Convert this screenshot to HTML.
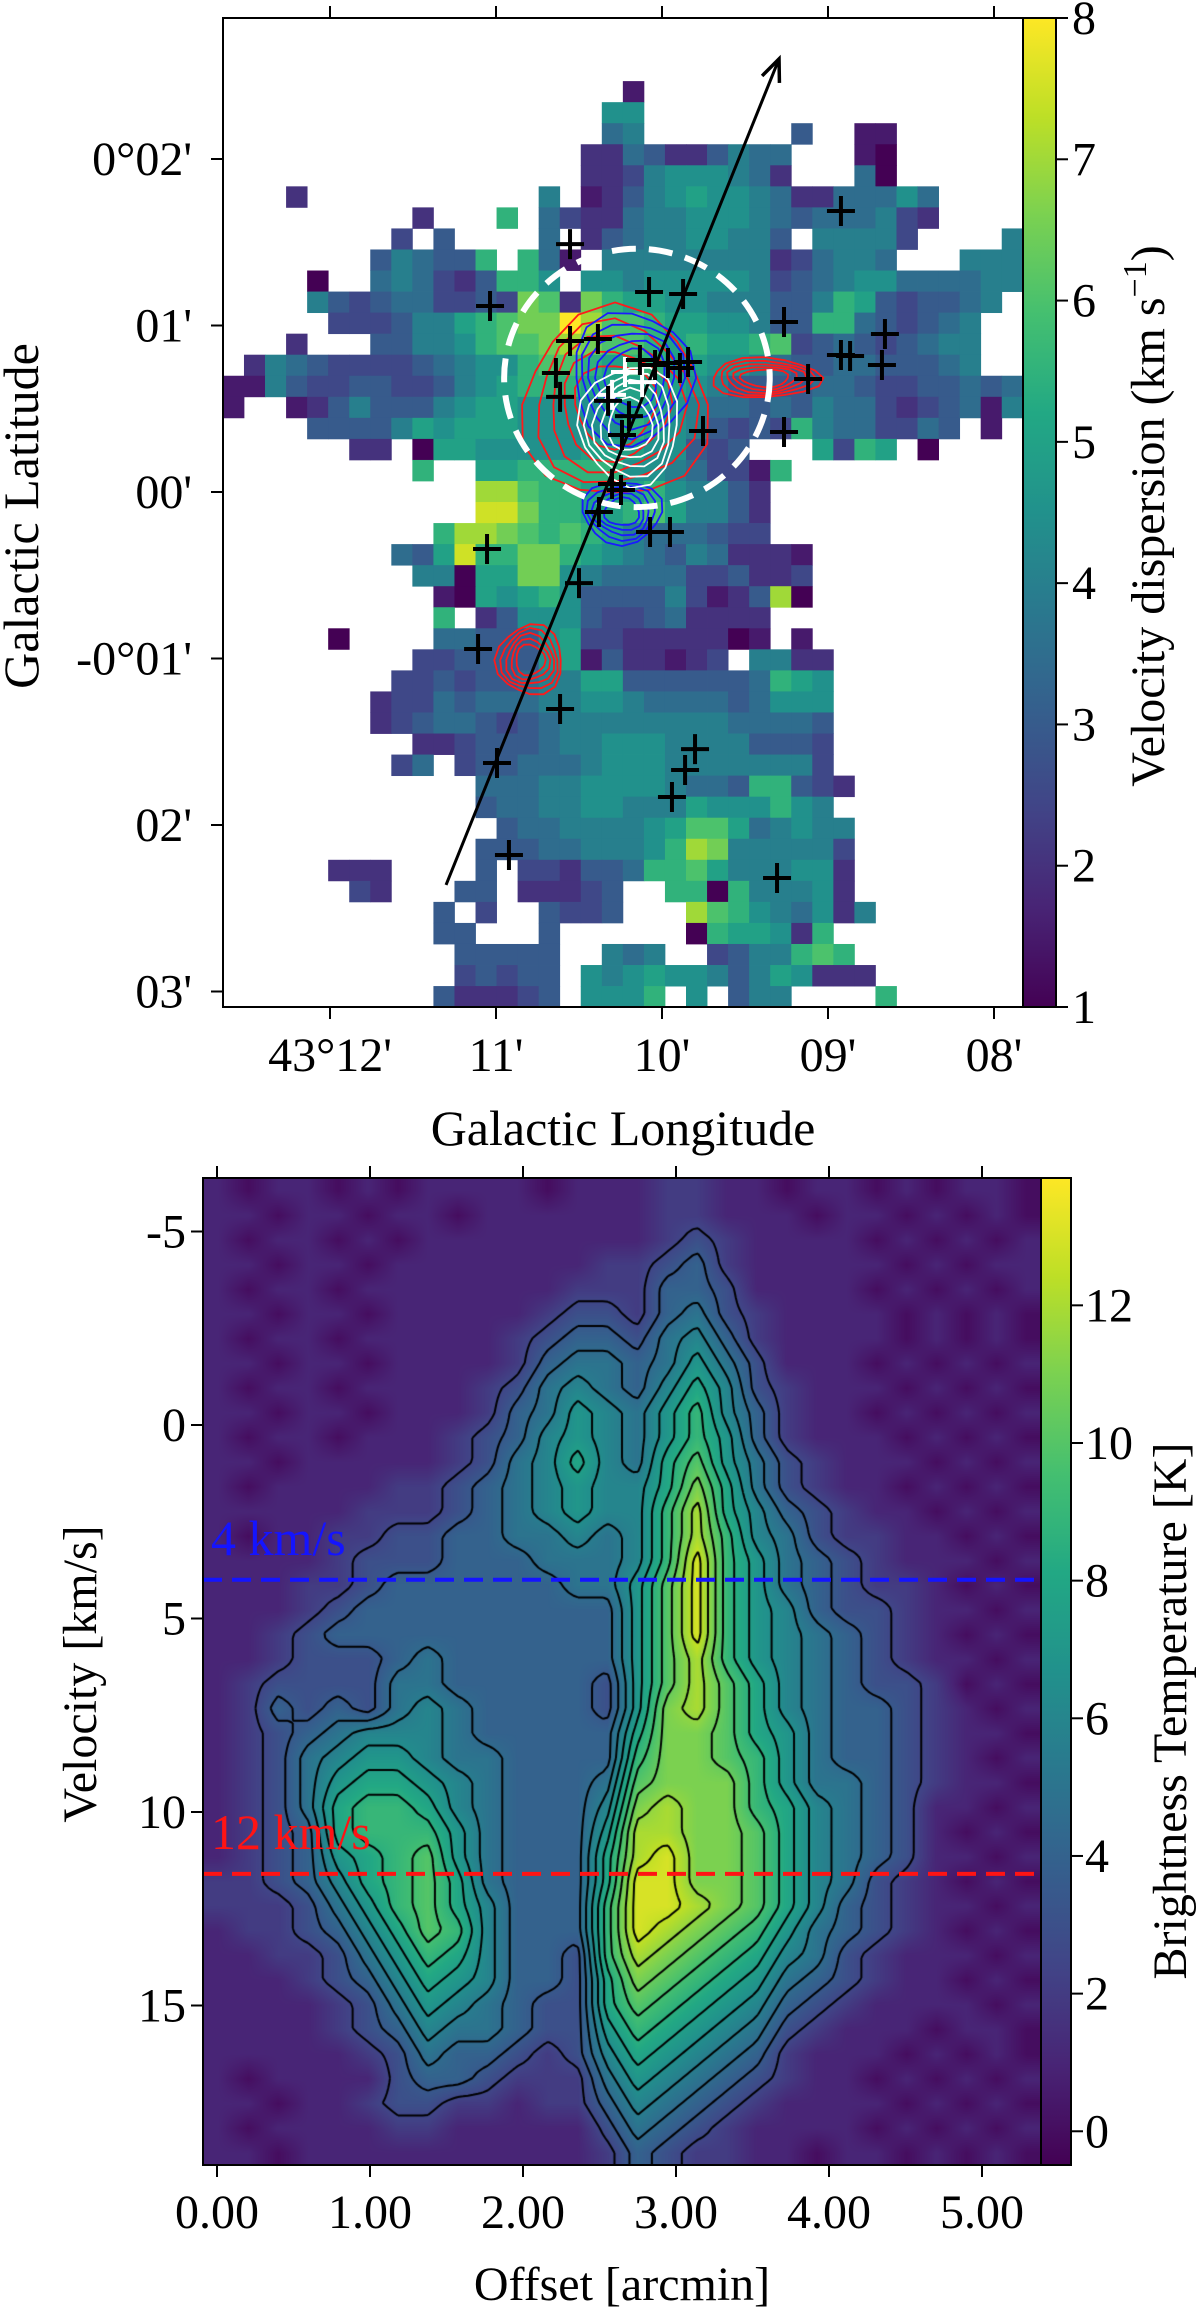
<!DOCTYPE html>
<html><head><meta charset="utf-8">
<style>
html,body{margin:0;padding:0;background:#fff;}
#wrap{position:relative;width:1200px;height:2314px;overflow:hidden;background:#fff;font-family:"Liberation Serif",serif;}
canvas{position:absolute;}
svg{position:absolute;left:0;top:0;font-family:"Liberation Serif",serif;}
text{font-family:"Liberation Serif",serif;fill:#000;}
</style></head>
<body>
<div id="wrap">
<canvas id="pv"></canvas>
<svg id="fig" width="1200" height="2314" font-family="Liberation Serif, serif" style="font-family:'Liberation Serif',serif" xmlns="http://www.w3.org/2000/svg">
  <defs>
    <linearGradient id="virGrad" x1="0" y1="1" x2="0" y2="0"></linearGradient>
  </defs>
  <g id="mapCells"></g>
  <g id="mapOverlay"></g>
  <g id="axesTop"></g>
  <g id="axesBottom"></g>
</svg>
</div>
<script>
// ===== Top map data (rows top->bottom, cols left->right). '.' = blank, 'A'=1.0, step 0.5 km/s =====
const mapRows = [
"......................................",
"......................................",
"......................................",
"...................B..................",
"..................HH..................",
"..................FG.......E..BB......",
".................CCFECCEGFF...BA......",
".................CCDGHHHGFC...FA......",
"...C...........G.BCEGHIHHGFCCFFFHF....",
".........C...J.FDCCFGGHHHGFEFFFGDC....",
"........D.E....F.CEFGGHHGGE.GGGGD....G",
".......EGFEEJ.JFB.GGGGGGGGCDFGGF...GGG",
"....A..FGFDCEJJH.HHGHHHHHGDEFGHHFFFFGG",
"....GEDEFFDDEDLKCLJIIHHGGGEEGJIEDEEFG.",
".....DDDEGGIJKLLOMKKJIIHHGEEJJFEDEFG..",
"...C...EEGGHJKKLMLKKJIJIIJKDEFEDEFGG..",
".CGFEDDDDEFGHHJKKJIJJIIHHGFEEFFEEEFG..",
"BBGEDDEEDDEGHIJJJIIIIIHGEEEEFFEDDEEFEF",
"B..BCEGEEEGHIIHHHHIIIHGFFEFEGFFDCDEFBG",
"....EEEEGIHIIIHHHHHJIHGEDEDJGFFDDFE.B.",
"......CC.AIIHHHHHIIIHHEDE...IDJI.A....",
".........J..IIJJJJJHHGFDDBJ...........",
"............MMKJJIIIJHGGEC............",
"............NNLJJIIJKIGGEC............",
"..........JMMLKJKJIGFFFEDD............",
"........FEINJJLLJIHGFEGFCCCB..........",
".........GGAIILLHGFFFFDDECCD..........",
"..........BAIHIJHEEEEGDBCEMA..........",
"..........J.CEHHHEDDEFCCCC............",
".....A....FFEEEHIDDCCCCCAB.B..........",
".........DDEEEEHIBECCBCD.GGCC.........",
"........DDEDEEFGGIIEEEEEEFJIH.........",
".......CDDFEFFFGGHHGFFFFEFHHH.........",
".......CDEFFEDEFGGGGGGGGFFFFE.........",
".........CCDEEEFGGHHHGGGGEEED.........",
"........DF.DEEFFFGHHHGGGGGGGD.........",
"............FFFGGHHHHGFFEJJEDC........",
"............EFFGGHHGGGIHHHJHG.........",
".............EFFGGGGHIKKIFGHGG........",
"............EEEFFGGGHJMLGGGGGD........",
".....CCC....E.DDCEEFJJKIGGGHHC........",
"......DC...EE.CCCDE..JJAJGGGHC........",
"..........E.D..EDDE...MKJHGFHCG.......",
"..........EE...E......AJIIHCJ.........",
"...........EEEEE..GFG..DEGGJKJ........",
"...........DEDEE.HGHIHHGEGIHCCC.......",
"..........ECCCDE.HHHJ.H.EGG....J......"
];
const MAP_L0 = 12.645, MAP_DL = 0.1268, MAP_B0 = 2.847, MAP_DB = 0.1264; // arcmin grid
const mapVmin = 1, mapVmax = 8;
const mapXTicks = [12, 11, 10, 9, 8];
const mapXTickLabels = ["43°12'", "11'", "10'", "09'", "08'"];
const mapYTicks = [2, 1, 0, -1, -2, -3];
const mapYTickLabels = ["0°02'", "01'", "00'", "-0°01'", "02'", "03'"];
const mapCbTicks = [1, 2, 3, 4, 5, 6, 7, 8];
// sources (arcmin: longitude past 43°, latitude)
const crossL = [10.554,8.922,11.036,10.078,9.873,9.265,10.554,10.386,8.657,10.639,10.614,10.133,10.042,9.964,9.892,9.843,8.922,8.867,8.675,9.120,10.325,10.199,10.241,9.753,9.265,10.301,10.247,10.380,10.072,9.952,11.054,10.500,11.108,10.614,10.994,9.801,9.861,9.940,10.922,9.307];
const crossB = [1.489,1.688,1.117,1.201,1.189,1.021,0.907,0.919,0.949,0.715,0.571,0.793,0.763,0.775,0.745,0.781,0.823,0.817,0.763,0.679,0.547,0.456,0.342,0.366,0.360,0.048,0.012,-0.120,-0.240,-0.240,-0.342,-0.547,-0.943,-1.303,-1.628,-1.544,-1.670,-1.832,-2.180,-2.318];
const whiteCrossL = [10.223, 10.301, 10.12];
const whiteCrossB = [0.721, 0.583, 0.66];
// contour groups: center l,b ; radii rl,rb ; colour
const contL = [10.283, 9.380, 10.181, 10.241, 10.193, 10.795];
const contB = [0.523, 0.685, 0.685, -0.120, 0.402, -1.009];
const contRL = [0.56, 0.33, 0.36, 0.24, 0.30, 0.20];
const contRB = [0.57, 0.12, 0.40, 0.19, 0.36, 0.21];
const contColor = ["#ff1a1a", "#ff1a1a", "#1a1aff", "#1a1aff", "#ffffff", "#ff1a1a"];
const contLevels = [1, 0.86, 0.72, 0.58, 0.44];
const circleL = 10.151, circleB = 0.685, circleR = 0.8;
const arrowL = [11.301, 9.295], arrowB = [-2.360, 2.601];

// ===== PV diagram data: rows = velocity bins (top->bottom), cols = offset bins; hex digits in K =====
const pvRows = [
"1011010111101112211011010110",
"1101101101111112211101101010",
"1011010111111112321111010101",
"1101101111111223421111101011",
"1011011111112224431111010101",
"1101101111123324532111101010",
"1011011111234435642111101010",
"1101101111245545753111010101",
"1011011112356546863211101010",
"1101101112457657964211010101",
"1011011123467657974211101010",
"1101111123568658a75321110101",
"1011112234567668b85321101010",
"1111122234567669c86432110101",
"1011223344556569c96532211010",
"1111233344455569d97543211101",
"11122344444455 7ad97543221010".replace(" ",""),
"11123444444444 7ad97643321101".replace(" ",""),
"11234444444444 7ad97654321010".replace(" ",""),
"11233345444444 7ac97654321101".replace(" ",""),
"12333355444443 7aca8654332010".replace(" ",""),
"12434356544443 7bca8654432101".replace(" ",""),
"12345666544444 8bba8754432110".replace(" ",""),
"12356776554444 9bba9754432101".replace(" ",""),
"12357887654445 abbb9755432110".replace(" ",""),
"12358998654446 bcbb9865431101".replace(" ",""),
"12348999754447 ccbba865431010".replace(" ",""),
"1234789a754448 cdbba865431101".replace(" ",""),
"2234689a854448 ddbba865321010".replace(" ",""),
"2223579a864449 ddcba864321101".replace(" ",""),
"1223468a964449 dcba9754321010".replace(" ",""),
"11223579864439 cba98653211101".replace(" ",""),
"11123468764438 ba987543211010".replace(" ",""),
"11112357654338 a9876432111101".replace(" ",""),
"11112346554337 98765321110110".replace(" ",""),
"11111235443236 87654211101010".replace(" ",""),
"10111134432225 76543211010101".replace(" ",""),
"11011233221224 65432111101010".replace(" ",""),
"10111122111113 54321111010101".replace(" ",""),
"11011111111112 43221101101010".replace(" ","")
];
const PV_X0 = -0.0915, PV_DX = 0.1956, PV_V0 = -6.38, PV_DV = 0.6375;
const pvVmin = -0.49, pvVmax = 13.85;
const pvContourLevels = [2.5, 3.5, 4.5, 5.5, 6.5, 7.5, 8.5, 9.5, 10.5, 11.5, 12.5];
const pvXTicks = [0, 1, 2, 3, 4, 5];
const pvXTickLabels = ["0.00", "1.00", "2.00", "3.00", "4.00", "5.00"];
const pvYTicks = [-5, 0, 5, 10, 15];
const pvYTickLabels = ["-5", "0", "5", "10", "15"];
const pvCbTicks = [0, 2, 4, 6, 8, 10, 12];
const refVel = [4, 11.6];
const refLabels = ["4 km/s", "12 km/s"];
const refColors = ["#1414ff", "#ff1414"];

// ===== helpers =====
const NS = "http://www.w3.org/2000/svg";
const VIR = ['#440154','#482475','#414487','#355f8d','#2a788e','#21918c','#22a884','#44bf70','#7ad151','#bddf26','#fde725'];
function hx(h){return [parseInt(h.substr(1,2),16),parseInt(h.substr(3,2),16),parseInt(h.substr(5,2),16)];}
const VIRRGB = VIR.map(hx);
function vir(t){t=Math.max(0,Math.min(1,t));const s=t*10;const i=Math.min(9,Math.floor(s));const f=s-i;const a=VIRRGB[i],b=VIRRGB[i+1];
  return [a[0]+(b[0]-a[0])*f,a[1]+(b[1]-a[1])*f,a[2]+(b[2]-a[2])*f];}
function rgb(c){return "rgb("+Math.round(c[0])+","+Math.round(c[1])+","+Math.round(c[2])+")";}
function mk(tag, attrs, parent){const e=document.createElementNS(NS,tag);for(const k in attrs)e.setAttribute(k,attrs[k]);parent.appendChild(e);return e;}
const FF = "Liberation Serif, serif";

// gradient
const grad = document.getElementById('virGrad');
for (let i=0;i<=20;i++){const st=document.createElementNS(NS,'stop');st.setAttribute('offset',(i/20));st.setAttribute('stop-color',rgb(vir(i/20)));grad.appendChild(st);}

// ===== top map scales =====
function mapX(l){return 662 + 166*(10 - l);}
function mapY(b){return 492 - 166.5*b;}
const TL = 223, TR = 1023, TT = 18, TB = 1007;
function cbTopY(v){return TB - (v - mapVmin)/(mapVmax - mapVmin)*(TB - TT);}

const cells = document.getElementById('mapCells');
for (let r=0;r<mapRows.length;r++){
  const row = mapRows[r];
  for (let c=0;c<row.length;c++){
    const ch=row[c]; if (ch==='.') continue;
    const v = 1 + (ch.charCodeAt(0)-65)*0.5;
    const x1 = mapX(MAP_L0 - c*MAP_DL), x2 = mapX(MAP_L0 - (c+1)*MAP_DL);
    const y1 = mapY(MAP_B0 - r*MAP_DB), y2 = mapY(MAP_B0 - (r+1)*MAP_DB);
    const rc = mk('rect',{x:x1.toFixed(2),y:y1.toFixed(2),width:(x2-x1+0.4).toFixed(2),height:(y2-y1+0.4).toFixed(2),fill:rgb(vir((v-mapVmin)/(mapVmax-mapVmin)))},cells);
    
    
  }
}

const ov = document.getElementById('mapOverlay');
// contours
for (let g=0; g<contL.length; g++){
  for (let k=0;k<contLevels.length;k++){
    const s=contLevels[k];
    const cx=mapX(contL[g]), cy=mapY(contB[g]);
    const rx=contRL[g]*166*s, ry=contRB[g]*166.5*s;
    let d="";
    for (let a=0;a<=16;a++){
      const th=a/16*2*Math.PI;
      const wob=1+0.08*Math.sin(th*3+g+k*0.7);
      const px=cx+rx*wob*Math.cos(th), py=cy+ry*wob*Math.sin(th);
      d+=(a?"L":"M")+px.toFixed(1)+","+py.toFixed(1);
    }
    const p=mk('path',{d:d+"Z",fill:"none",stroke:contColor[g],"stroke-width":1.8},ov);
    
    
  }
}
// dashed circle
const circ = mk('ellipse',{cx:mapX(circleL),cy:mapY(circleB),rx:circleR*166,ry:circleR*166.5*0.97,fill:"none",stroke:"#fff","stroke-width":6,"stroke-dasharray":"24,13"},ov);


// arrow
const ax1=mapX(arrowL[0]), ay1=mapY(arrowB[0]), ax2=mapX(arrowL[1]), ay2=mapY(arrowB[1]);
const arr = mk('line',{x1:ax1,y1:ay1,x2:ax2,y2:ay2,stroke:"#000","stroke-width":3},ov);


{
  const ang=Math.atan2(ay2-ay1,ax2-ax1), L=24;
  const hp = mk('path',{d:"M"+(ax2-L*Math.cos(ang-0.4))+","+(ay2-L*Math.sin(ang-0.4))+"L"+ax2+","+ay2+"L"+(ax2-L*Math.cos(ang+0.4))+","+(ay2-L*Math.sin(ang+0.4)),fill:"none",stroke:"#000","stroke-width":3.5},ov);
  
  
}
// crosses
function cross(l,b,col,name){
  const x=mapX(l), y=mapY(b);
  const p = mk('path',{d:"M"+(x-14)+","+y+"H"+(x+14)+"M"+x+","+(y-15)+"V"+(y+15),stroke:col,"stroke-width":4,fill:"none"},ov);
  
  
}
for (let i=0;i<whiteCrossL.length;i++) cross(whiteCrossL[i],whiteCrossB[i],"#fff","white-source-marker");
for (let i=0;i<crossL.length;i++) cross(crossL[i],crossB[i],"#000","source-marker");

// top axes
const at = document.getElementById('axesTop');
const frame = mk('rect',{x:TL,y:TT,width:TR-TL,height:TB-TT,fill:"none",stroke:"#000","stroke-width":2},at);


for (let i=0;i<mapXTicks.length;i++){
  const x=mapX(mapXTicks[i]);
  const t1=mk('line',{x1:x,y1:TB,x2:x,y2:TB+12,stroke:"#000","stroke-width":2},at);
  
  
  const t2=mk('line',{x1:x,y1:TT,x2:x,y2:TT-12,stroke:"#000","stroke-width":2},at);
  
  
  const tx=mk('text',{x:x,y:1071,"text-anchor":"middle","font-size":48,"font-family":FF},at);
  tx.textContent=mapXTickLabels[i];
  
  
}
for (let i=0;i<mapYTicks.length;i++){
  const y=mapY(mapYTicks[i]);
  const t1=mk('line',{x1:TL-12,y1:y,x2:TL,y2:y,stroke:"#000","stroke-width":2},at);
  
  
  const tx=mk('text',{x:192,y:y+16,"text-anchor":"end","font-size":48,"font-family":FF},at);
  tx.textContent=mapYTickLabels[i];
  
  
}
// top colorbar
const cb1=mk('rect',{x:TR,y:TT,width:33,height:TB-TT,fill:"url(#virGrad)",stroke:"#000","stroke-width":2},at);


for (let i=0;i<mapCbTicks.length;i++){
  const y=cbTopY(mapCbTicks[i]);
  const t=mk('line',{x1:TR+33,y1:y,x2:TR+45,y2:y,stroke:"#000","stroke-width":2},at);
  
  
  const tx=mk('text',{x:1072,y:y+16,"font-size":48,"font-family":FF},at);
  tx.textContent=String(mapCbTicks[i]);
  
  
}

// ===== PV diagram =====
function pvX(o){return 217 + 153*o;}
function pvY(v){return 1425 + 38.7*v;}
const BL = 203, BR = 1041, BT = 1178, BB = 2165;
function cbBotY(v){return BB - (v - pvVmin)/(pvVmax - pvVmin)*(BB - BT);}
const NC = pvRows[0].length, NR = pvRows.length;
const pvVals = pvRows.map(r => r.split('').map(ch => parseInt(ch,16)));
const cv = document.getElementById('pv');
const cvL = pvX(PV_X0), cvT = pvY(PV_V0);
const cvW = Math.round(pvX(PV_X0+NC*PV_DX) - cvL), cvH = Math.round(pvY(PV_V0+NR*PV_DV) - cvT);
cv.width = cvW; cv.height = cvH;
cv.style.left = cvL+"px"; cv.style.top = cvT+"px";
const cw = (pvX(PV_X0+PV_DX)-pvX(PV_X0)), chh = (pvY(PV_V0+PV_DV)-pvY(PV_V0));
function field(px,py){
  let u=px/cw-0.5, v=py/chh-0.5;
  u=Math.max(0,Math.min(NC-1,u)); v=Math.max(0,Math.min(NR-1,v));
  let i=Math.min(NC-2,Math.floor(u)), j=Math.min(NR-2,Math.floor(v));
  const fu=u-i, fv=v-j;
  const a=pvVals[j][i], b=pvVals[j][i+1], c=pvVals[j+1][i], d=pvVals[j+1][i+1];
  return (a*(1-fu)+b*fu)*(1-fv)+(c*(1-fu)+d*fu)*fv;
}
const ctx = cv.getContext('2d');
const img = ctx.createImageData(cvW, cvH);
for (let y=0;y<cvH;y++){
  for (let x=0;x<cvW;x++){
    const col = vir((field(x,y)-pvVmin)/(pvVmax-pvVmin));
    const k=(y*cvW+x)*4;
    img.data[k]=col[0]; img.data[k+1]=col[1]; img.data[k+2]=col[2]; img.data[k+3]=255;
  }
}
ctx.putImageData(img,0,0);
// contours via marching squares
const STEP=5;
const gx=Math.ceil(cvW/STEP)+1, gy=Math.ceil(cvH/STEP)+1;
const G=[];
for (let j=0;j<gy;j++){G.push([]);for(let i=0;i<gx;i++)G[j].push(field(i*STEP,j*STEP));}
ctx.strokeStyle="#000"; ctx.lineWidth=2;
ctx.beginPath();
for (const L of pvContourLevels){
  for (let j=0;j<gy-1;j++) for (let i=0;i<gx-1;i++){
    const tl=G[j][i], tr=G[j][i+1], br=G[j+1][i+1], bl=G[j+1][i];
    const idx=(tl>L?8:0)|(tr>L?4:0)|(br>L?2:0)|(bl>L?1:0);
    if(idx===0||idx===15) continue;
    const x0=i*STEP, y0=j*STEP;
    const T=[x0+STEP*(L-tl)/(tr-tl), y0];
    const R=[x0+STEP, y0+STEP*(L-tr)/(br-tr)];
    const B=[x0+STEP*(L-bl)/(br-bl), y0+STEP];
    const Lf=[x0, y0+STEP*(L-tl)/(bl-tl)];
    const segs={1:[[Lf,B]],2:[[B,R]],3:[[Lf,R]],4:[[T,R]],5:[[Lf,T],[B,R]],6:[[T,B]],7:[[Lf,T]],8:[[Lf,T]],9:[[T,B]],10:[[T,R],[Lf,B]],11:[[T,R]],12:[[Lf,R]],13:[[B,R]],14:[[Lf,B]]}[idx];
    for(const s of segs){ctx.moveTo(s[0][0],s[0][1]);ctx.lineTo(s[1][0],s[1][1]);}
  }
}
ctx.stroke();

// bottom axes
const ab = document.getElementById('axesBottom');
for (let i=0;i<refVel.length;i++){
  const y=pvY(refVel[i]);
  const ln=mk('line',{x1:BL,y1:y,x2:BR,y2:y,stroke:refColors[i],"stroke-width":4,"stroke-dasharray":"19,10"},ab);
  
  
  const tx=mk('text',{x:BL+8,y:y-25,"font-size":50,fill:refColors[i],"font-family":FF},ab);
  tx.style.fill=refColors[i];
  tx.textContent=refLabels[i];
  
  
}
const fr2=mk('rect',{x:BL,y:BT,width:BR-BL,height:BB-BT,fill:"none",stroke:"#000","stroke-width":2},ab);


for (let i=0;i<pvXTicks.length;i++){
  const x=pvX(pvXTicks[i]);
  const t1=mk('line',{x1:x,y1:BB,x2:x,y2:BB+12,stroke:"#000","stroke-width":2},ab);
  
  
  const t2=mk('line',{x1:x,y1:BT,x2:x,y2:BT-12,stroke:"#000","stroke-width":2},ab);
  
  
  const tx=mk('text',{x:x,y:2228,"text-anchor":"middle","font-size":48,"font-family":FF},ab);
  tx.textContent=pvXTickLabels[i];
  
  
}
for (let i=0;i<pvYTicks.length;i++){
  const y=pvY(pvYTicks[i]);
  const t1=mk('line',{x1:BL-12,y1:y,x2:BL,y2:y,stroke:"#000","stroke-width":2},ab);
  
  
  const tx=mk('text',{x:186,y:y+16,"text-anchor":"end","font-size":48,"font-family":FF},ab);
  tx.textContent=pvYTickLabels[i];
  
  
}
const cb2=mk('rect',{x:BR,y:BT,width:30,height:BB-BT,fill:"url(#virGrad)",stroke:"#000","stroke-width":2},ab);


for (let i=0;i<pvCbTicks.length;i++){
  const y=cbBotY(pvCbTicks[i]);
  const t=mk('line',{x1:BR+30,y1:y,x2:BR+42,y2:y,stroke:"#000","stroke-width":2},ab);
  
  
  const tx=mk('text',{x:1085,y:y+16,"font-size":48,"font-family":FF},ab);
  tx.textContent=String(pvCbTicks[i]);
  
  
}
</script>
<svg width="1200" height="2314" font-family="Liberation Serif, serif" style="position:absolute;left:0;top:0;pointer-events:none;font-family:'Liberation Serif',serif" xmlns="http://www.w3.org/2000/svg">
  <text x="623" y="1145" text-anchor="middle" font-size="50" font-family="Liberation Serif, serif">Galactic Longitude</text>
  <text transform="translate(38,516) rotate(-90)" text-anchor="middle" font-size="50" font-family="Liberation Serif, serif">Galactic Latitude</text>
  <text transform="translate(1164,516) rotate(-90)" text-anchor="middle" font-size="48" font-family="Liberation Serif, serif">Velocity dispersion (km s<tspan dy="-18" font-size="34">−1</tspan><tspan dy="18">)</tspan></text>
  <text x="622" y="2300" text-anchor="middle" font-size="48" font-family="Liberation Serif, serif">Offset [arcmin]</text>
  <text transform="translate(96,1674) rotate(-90)" text-anchor="middle" font-size="48" font-family="Liberation Serif, serif">Velocity [km/s]</text>
  <text transform="translate(1186,1711) rotate(-90)" text-anchor="middle" font-size="48" font-family="Liberation Serif, serif">Brightness Temperature [K]</text>
</svg>
</body></html>
